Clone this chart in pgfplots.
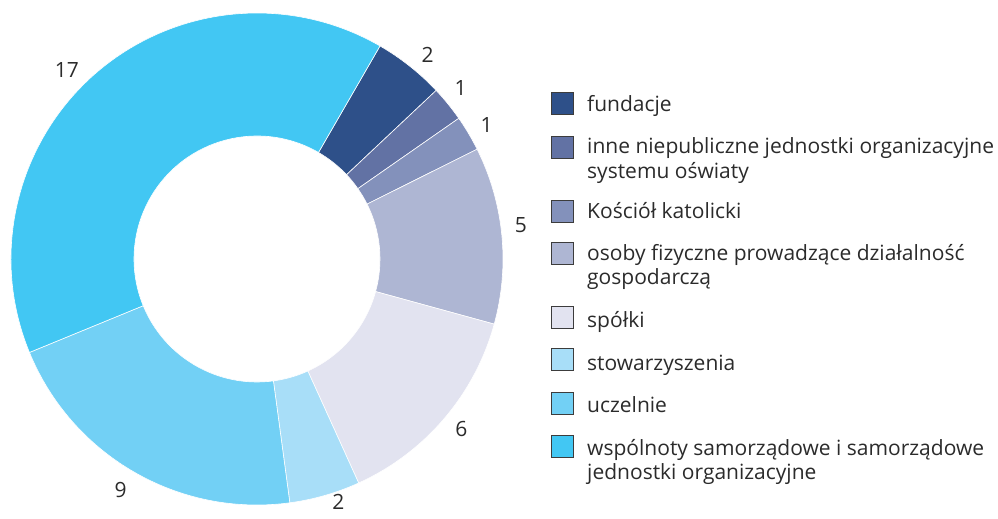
\documentclass[border=0pt]{standalone}
\usepackage{fontspec}
\setmainfont{Open Sans}
\usepackage{pgfplots}
\usepackage{pgfplotstable}
\pgfplotsset{compat=1.18}

\definecolor{c0}{HTML}{2E5089}
\definecolor{c1}{HTML}{6272A4}
\definecolor{c2}{HTML}{8391BB}
\definecolor{c3}{HTML}{AEB6D3}
\definecolor{c4}{HTML}{E2E3F0}
\definecolor{c5}{HTML}{A8DEF8}
\definecolor{c6}{HTML}{72D0F5}
\definecolor{c7}{HTML}{42C7F3}
\definecolor{txt}{HTML}{2B2B2B}
\definecolor{edge}{HTML}{3C3C3C}

% value, label-angle tweak, label radius
\pgfplotstableread{
value dang rad
2 -1.5 266
1 1 266
1 -0.4 266
5 1.8 266
6 0.7 266
2 2.5 256
9 -0.6 268
17 4 268
}\slices

\begin{document}
\fontsize{21}{25}\selectfont
\begin{tikzpicture}
\begin{axis}[
  width=998pt, height=519pt, scale only axis,
  xmin=0, xmax=998, ymin=0, ymax=519, y dir=reverse,
  hide axis, clip=false,
]
\def\startang{60}
\pgfplotsforeachungrouped \i in {0,...,7}{%
  \pgfplotstablegetelem{\i}{value}\of\slices \let\v\pgfplotsretval
  \pgfplotstablegetelem{\i}{dang}\of\slices \let\d\pgfplotsretval
  \pgfplotstablegetelem{\i}{rad}\of\slices \let\r\pgfplotsretval
  \pgfmathsetmacro\endang{\startang-\v*360/43}%
  \pgfmathsetmacro\midang{(\startang+\endang)/2+\d}%
  \edef\cmd{\noexpand\filldraw[fill=c\i,draw=white,line width=0.6pt]
    (axis cs:257,259) ++(\startang:246pt)
    arc[start angle=\startang,end angle=\endang,radius=246pt]
    -- ([shift={(\endang:123pt)}]axis cs:257,259)
    arc[start angle=\endang,end angle=\startang,radius=123pt] -- cycle;
    \noexpand\node[text=txt,anchor=center,inner sep=0pt]
    at ([shift={(\midang:\r pt)}]axis cs:257,259) {\v};}%
  \cmd
  \global\let\startang\endang
}

% legend
\filldraw[fill=c0,draw=edge,line width=0.8pt] (axis cs:551,92) rectangle (axis cs:573,114);
\node[anchor=base west,inner sep=0pt,text=txt] at (axis cs:587,111) {fundacje};
\filldraw[fill=c1,draw=edge,line width=0.8pt] (axis cs:551,136) rectangle (axis cs:573,158);
\node[anchor=base west,inner sep=0pt,text=txt] at (axis cs:587,153) {inne niepubliczne jednostki organizacyjne};
\node[anchor=base west,inner sep=0pt,text=txt] at (axis cs:587,178) {systemu oświaty};
\filldraw[fill=c2,draw=edge,line width=0.8pt] (axis cs:551,200) rectangle (axis cs:573,222);
\node[anchor=base west,inner sep=0pt,text=txt] at (axis cs:587,218) {Kościół katolicki};
\filldraw[fill=c3,draw=edge,line width=0.8pt] (axis cs:551,242) rectangle (axis cs:573,264);
\node[anchor=base west,inner sep=0pt,text=txt] at (axis cs:587,260) {osoby fizyczne prowadzące działalność};
\node[anchor=base west,inner sep=0pt,text=txt] at (axis cs:587,284) {gospodarczą};
\filldraw[fill=c4,draw=edge,line width=0.8pt] (axis cs:551,306) rectangle (axis cs:573,328);
\node[anchor=base west,inner sep=0pt,text=txt] at (axis cs:587,327) {spółki};
\filldraw[fill=c5,draw=edge,line width=0.8pt] (axis cs:551,348) rectangle (axis cs:573,370);
\node[anchor=base west,inner sep=0pt,text=txt] at (axis cs:587,370) {stowarzyszenia};
\filldraw[fill=c6,draw=edge,line width=0.8pt] (axis cs:551,392) rectangle (axis cs:573,414);
\node[anchor=base west,inner sep=0pt,text=txt] at (axis cs:587,412) {uczelnie};
\filldraw[fill=c7,draw=edge,line width=0.8pt] (axis cs:551,435) rectangle (axis cs:573,457);
\node[anchor=base west,inner sep=0pt,text=txt] at (axis cs:587,455) {wspólnoty samorządowe i samorządowe};
\node[anchor=base west,inner sep=0pt,text=txt] at (axis cs:587,479) {jednostki organizacyjne};
\end{axis}
\pgfresetboundingbox
\path (current axis.south west) rectangle (current axis.north east);
\end{tikzpicture}
\end{document}
